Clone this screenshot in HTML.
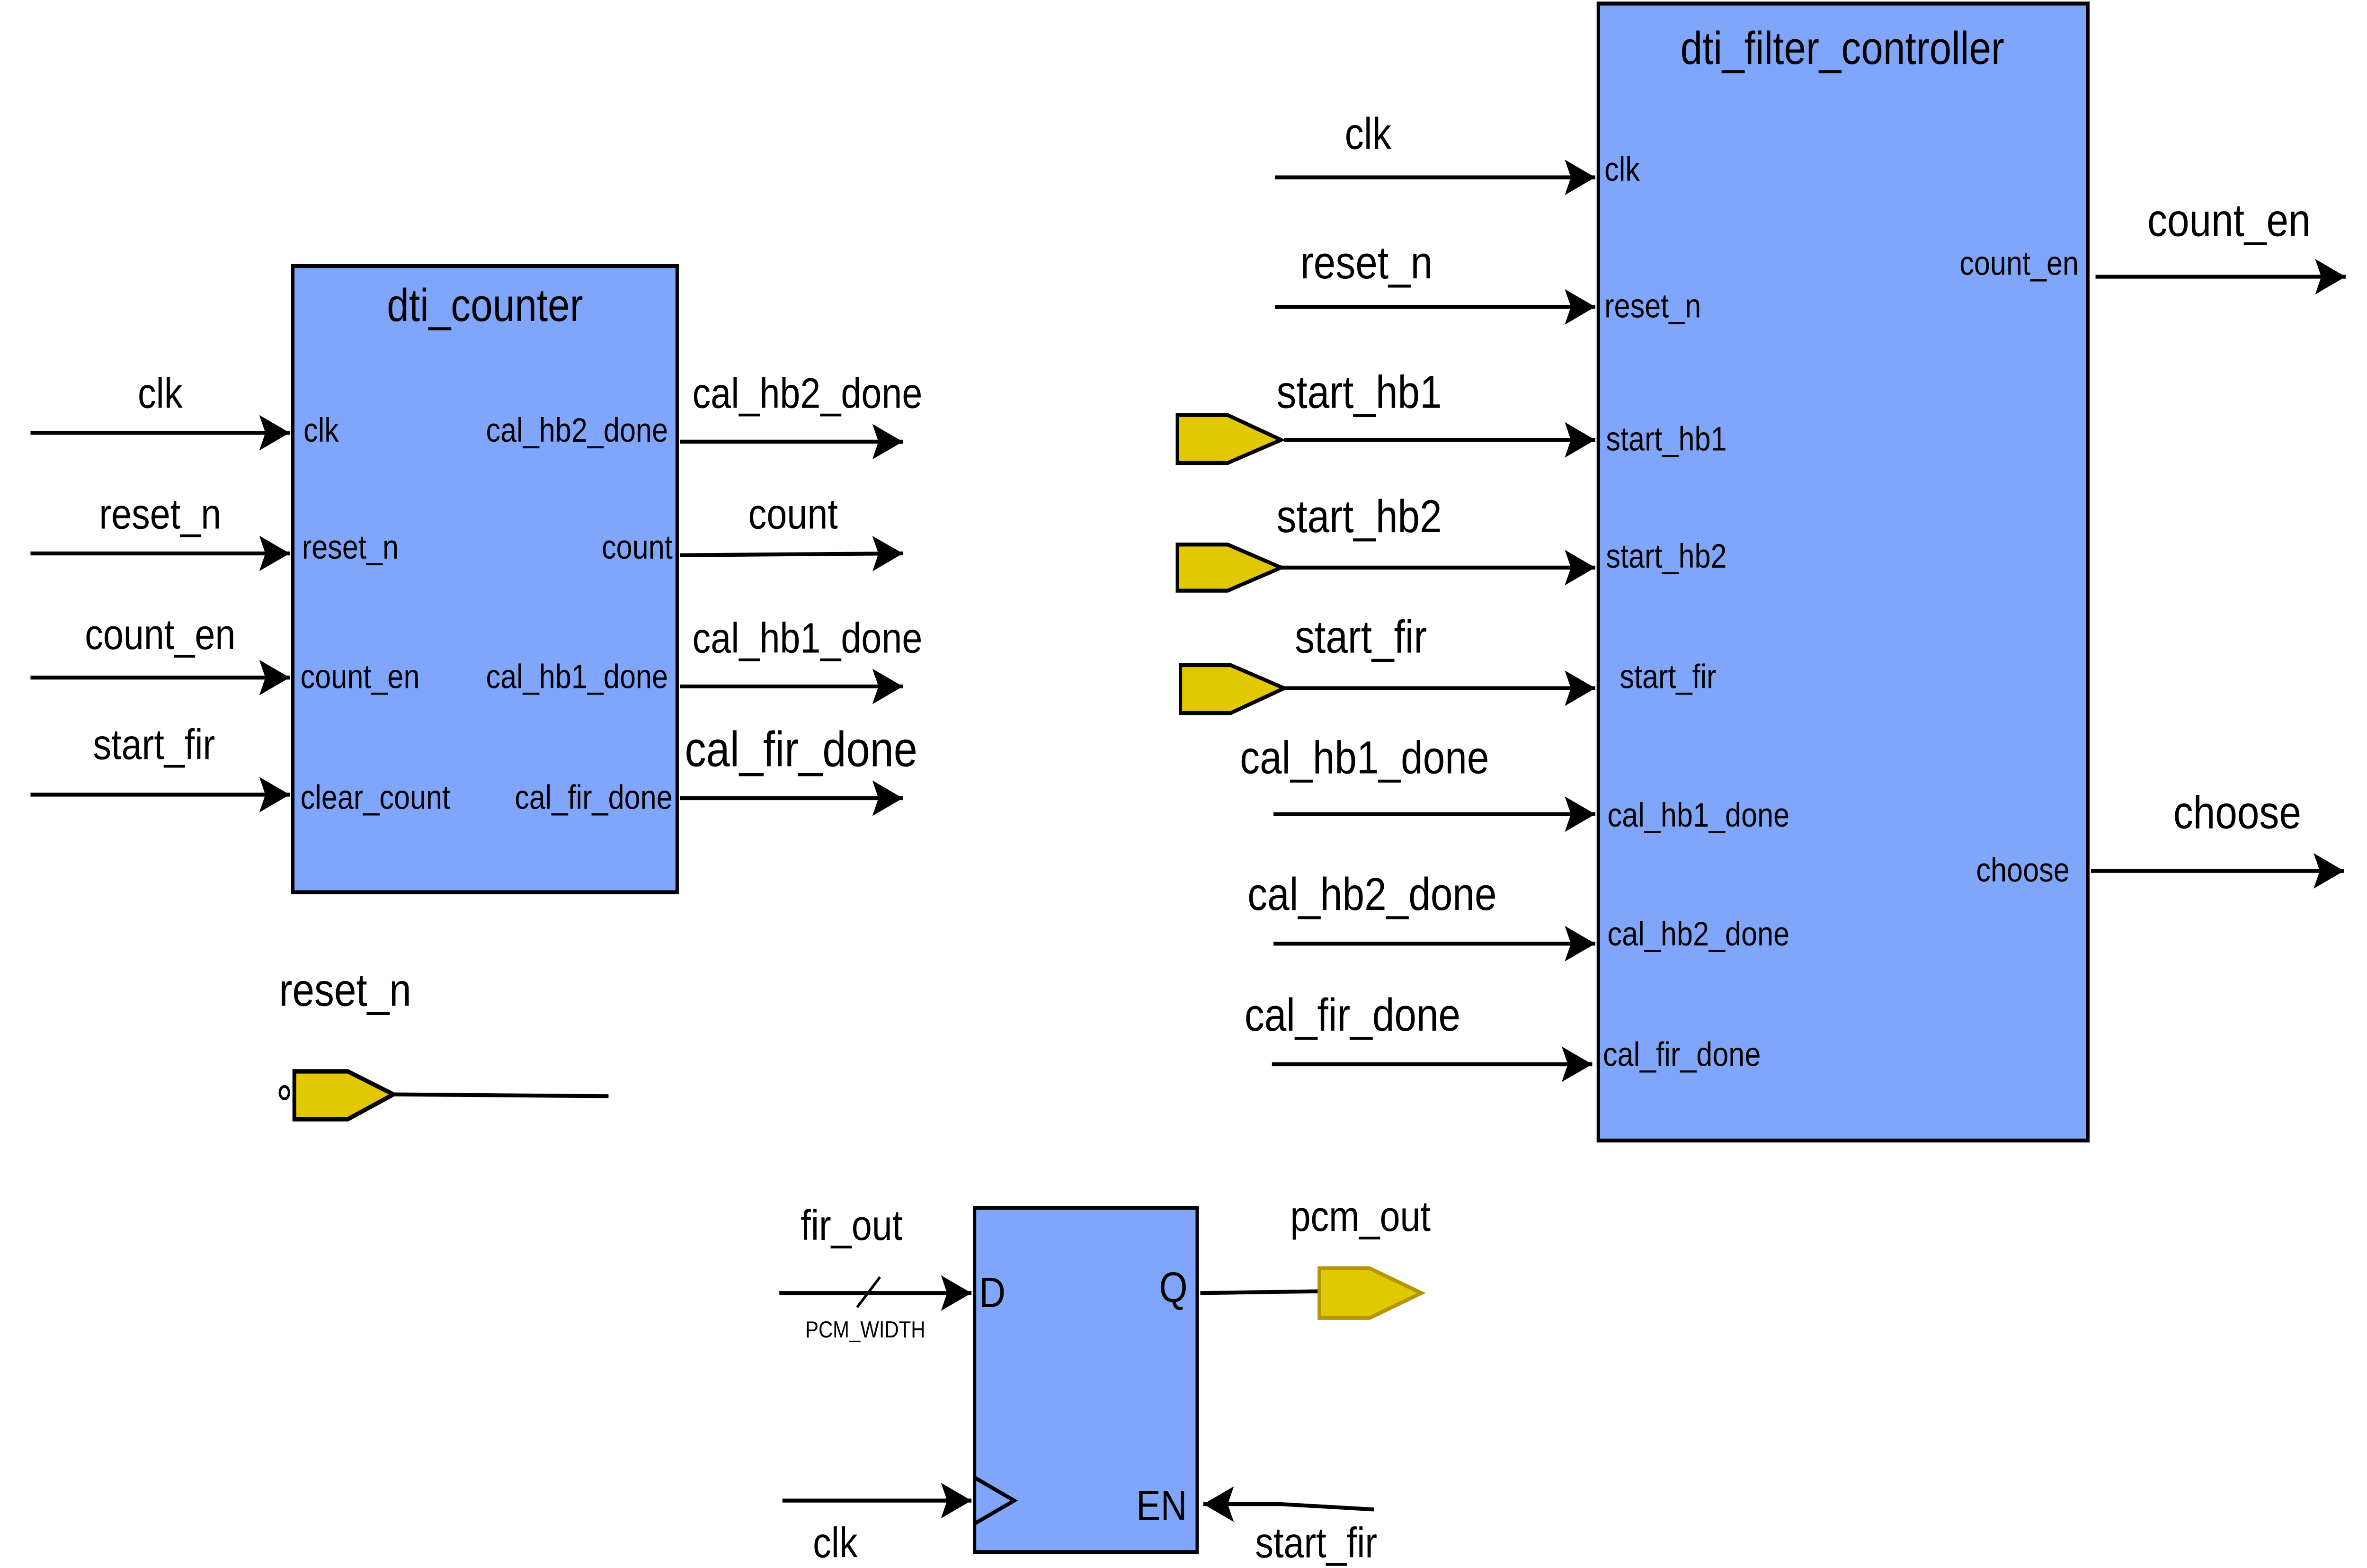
<!DOCTYPE html>
<html><head><meta charset="utf-8"><style>
html,body{margin:0;padding:0;background:#fff;overflow:hidden;width:100%;height:100%;}
svg{display:block;position:fixed;left:0;top:0;width:100vw;height:100vh;}
text{font-family:"Liberation Sans",sans-serif;fill:#000;}
</style></head><body>
<svg viewBox="0 0 1552 884" preserveAspectRatio="none" xmlns="http://www.w3.org/2000/svg">
<defs>
<marker id="a" markerUnits="userSpaceOnUse" markerWidth="24" markerHeight="24" refX="20" refY="10" orient="auto" viewBox="0 0 24 24">
<path d="M20 10 L0 0 L4 10 L0 20 Z" fill="#000"/>
</marker>
</defs>
<g stroke="#000" stroke-width="2.2" fill="none">
<rect x="192" y="150" width="252" height="353" fill="#80A6FB"/>
<line x1="20" y1="244" x2="190" y2="244" marker-end="url(#a)"/>
<line x1="20" y1="312" x2="190" y2="312" marker-end="url(#a)"/>
<line x1="20" y1="382" x2="190" y2="382" marker-end="url(#a)"/>
<line x1="20" y1="448" x2="190" y2="448" marker-end="url(#a)"/>
<line x1="446" y1="249" x2="592" y2="249" marker-end="url(#a)"/>
<line x1="446" y1="313" x2="592" y2="312" marker-end="url(#a)"/>
<line x1="446" y1="387" x2="592" y2="387" marker-end="url(#a)"/>
<line x1="446" y1="450" x2="592" y2="450" marker-end="url(#a)"/>
<polygon points="193,604 228,604 258,617 228,631 193,631" fill="#E1C800" stroke-width="2.5"/>
<ellipse cx="186.5" cy="616" rx="3" ry="3.5" stroke-width="1.6"/>
<line x1="258" y1="617" x2="399" y2="618"/>
<rect x="1048" y="2" width="321" height="641" fill="#80A6FB"/>
<line x1="836" y1="100" x2="1046" y2="100" marker-end="url(#a)"/>
<line x1="836" y1="173" x2="1046" y2="173" marker-end="url(#a)"/>
<line x1="842" y1="248" x2="1046" y2="248" marker-end="url(#a)"/>
<line x1="840" y1="320" x2="1046" y2="320" marker-end="url(#a)"/>
<line x1="842" y1="388" x2="1046" y2="388" marker-end="url(#a)"/>
<line x1="835" y1="459" x2="1046" y2="459" marker-end="url(#a)"/>
<line x1="835" y1="532" x2="1046" y2="532" marker-end="url(#a)"/>
<line x1="834" y1="600" x2="1044" y2="600" marker-end="url(#a)"/>
<polygon points="772,234 805,234 840,248 805,261 772,261" fill="#E1C800"/>
<polygon points="772,307 805,307 840,320 805,333 772,333" fill="#E1C800"/>
<polygon points="774,375 807,375 842,388 807,402 774,402" fill="#E1C800"/>
<line x1="1374" y1="156" x2="1538" y2="156" marker-end="url(#a)"/>
<line x1="1371" y1="491" x2="1537" y2="491" marker-end="url(#a)"/>
<rect x="639" y="681" width="146" height="194" fill="#80A6FB"/>
<polyline points="639,833 665,846 639,859"/>
<line x1="511" y1="729" x2="637" y2="729" marker-end="url(#a)"/>
<line x1="562" y1="737" x2="577" y2="720" stroke-width="1.6"/>
<line x1="513" y1="846" x2="637" y2="846" marker-end="url(#a)"/>
<line x1="787" y1="729" x2="865" y2="728"/>
<polygon points="865,715 898,715 932,729 898,743 865,743" fill="#E1C800" stroke="#B39600"/>
<polyline points="901,851 840,848 789,848" marker-end="url(#a)"/>
</g>
<g font-size="26">
<text x="318" y="181" text-anchor="middle">dti_counter</text>
<text x="1208" y="36" text-anchor="middle">dti_filter_controller</text>
</g>
<g font-size="24">
<text x="105" y="230" text-anchor="middle">clk</text>
<text x="105" y="298" text-anchor="middle">reset_n</text>
<text x="105" y="366" text-anchor="middle">count_en</text>
<text x="101" y="428" text-anchor="middle">start_fir</text>
<text x="454" y="230">cal_hb2_done</text>
<text x="520" y="298" text-anchor="middle">count</text>
<text x="454" y="368">cal_hb1_done</text>
<text x="449" y="432" font-size="28">cal_fir_done</text>
<text x="183" y="567" font-size="26">reset_n</text>
<text x="897" y="84" text-anchor="middle" font-size="25">clk</text>
<text x="896" y="157" text-anchor="middle" font-size="26">reset_n</text>
<text x="837" y="230" font-size="26">start_hb1</text>
<text x="837" y="300" font-size="26">start_hb2</text>
<text x="849" y="368" font-size="26">start_fir</text>
<text x="813" y="436" font-size="26">cal_hb1_done</text>
<text x="818" y="513" font-size="26">cal_hb2_done</text>
<text x="816" y="581" font-size="26">cal_fir_done</text>
<text x="1408" y="133" font-size="26">count_en</text>
<text x="1425" y="467" font-size="26">choose</text>
<text x="525" y="699">fir_out</text>
<text x="846" y="694">pcm_out</text>
<text x="533" y="878">clk</text>
<text x="823" y="878">start_fir</text>
<text x="642" y="737">D</text>
<text x="760" y="734">Q</text>
<text x="745" y="857">EN</text>
</g>
<text x="528" y="754" font-size="13">PCM_WIDTH</text>
<g font-size="19">
<text x="199" y="249">clk</text>
<text x="198" y="315">reset_n</text>
<text x="197" y="388">count_en</text>
<text x="197" y="456">clear_count</text>
<text x="438" y="249" text-anchor="end">cal_hb2_done</text>
<text x="441" y="315" text-anchor="end">count</text>
<text x="438" y="388" text-anchor="end">cal_hb1_done</text>
<text x="441" y="456" text-anchor="end">cal_fir_done</text>
<text x="1052" y="102">clk</text>
<text x="1052" y="179">reset_n</text>
<text x="1053" y="254">start_hb1</text>
<text x="1053" y="320">start_hb2</text>
<text x="1062" y="388">start_fir</text>
<text x="1054" y="466">cal_hb1_done</text>
<text x="1054" y="533">cal_hb2_done</text>
<text x="1051" y="601">cal_fir_done</text>
<text x="1363" y="155" text-anchor="end">count_en</text>
<text x="1357" y="497" text-anchor="end">choose</text>
</g>
</svg>
</body></html>
